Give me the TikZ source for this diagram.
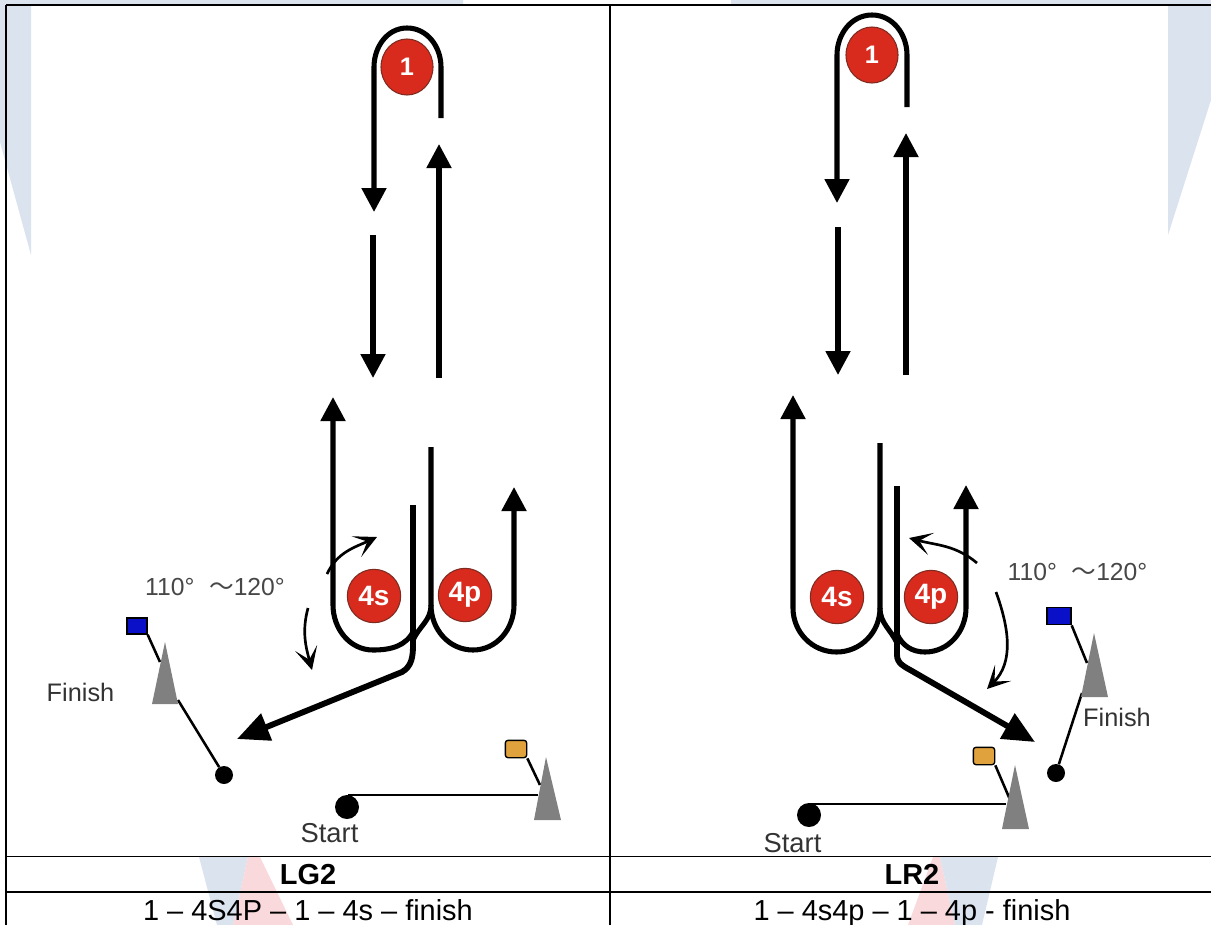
\documentclass[tikz,border=0pt]{standalone}
\usepackage{fontspec}
\setmainfont{Liberation Sans}
\newfontfamily\cjk{Noto Sans CJK JP}
\usetikzlibrary{arrows.meta,shapes.geometric}
\definecolor{markblue}{HTML}{DAE3EE}
\definecolor{markpink}{HTML}{F9D9DC}
\definecolor{buoyred}{HTML}{D92A1E}
\definecolor{buoyedge}{HTML}{7E2A20}
\definecolor{flagblue}{HTML}{0A10C8}
\definecolor{flagorange}{HTML}{E0A23C}
\definecolor{conegray}{HTML}{808080}
\begin{document}
\begin{tikzpicture}[x=0.75pt,y=0.75pt]
			\tikzstyle{track}=[draw=black,line width=3.8pt]
			\tikzstyle{trackhead}=[track,-{Triangle[length=18pt,width=18pt]}]
			\tikzstyle{exit}=[draw=black,line width=4.4pt,-{Triangle[length=24pt,width=21pt]}]
			\tikzstyle{swing}=[draw=black,line width=2pt,-{Stealth[length=17pt,width=17pt,inset=9pt]}]
			\tikzstyle{pole}=[draw=black,line width=1.9pt]
			\tikzstyle{grid}=[draw=black,line width=1.2pt]
			\tikzstyle{buoy}=[ellipse,draw=buoyedge,line width=0.8pt,fill=buoyred,text=white,font=\bfseries\fontsize{21}{21}\selectfont,inner sep=0pt,minimum width=40pt,minimum height=40pt]
			\tikzstyle{buoytop}=[buoy,font=\bfseries\fontsize{19}{19}\selectfont,minimum width=39pt,minimum height=42pt]
			\tikzstyle{ball}=[circle,fill=black,inner sep=0pt]
			\tikzstyle{flagbox}=[rectangle,draw=black,line width=1pt,inner sep=0pt,minimum width=15pt,minimum height=12pt]
			\tikzstyle{word}=[text=black!80,font=\fontsize{19}{19}\selectfont,inner sep=0pt]
			\tikzstyle{startword}=[word,font=\fontsize{20.5}{20.5}\selectfont]
			\tikzstyle{angle}=[text=black!72,font=\fontsize{18.5}{18.5}\selectfont,inner sep=0pt]
			\tikzstyle{cell}=[text=black,font=\fontsize{21.7}{22}\selectfont,inner sep=0pt,anchor=base]
			\tikzstyle{cellhead}=[cell,font=\bfseries\fontsize{21.7}{22}\selectfont]
			\useasboundingbox (0,0) rectangle (1211,-925);

			% watermark
			\fill[markblue] (0,0) -- (463,0) -- (463,-5) -- (31,-5) -- (31,-255) -- (0,-142) -- cycle;
			\fill[markblue] (731,0) -- (1211,0) -- (1211,-100) -- (1168,-235) -- (1168,-5) -- (731,-5) -- cycle;
			\fill[markblue] (199,-857) -- (248,-857) -- (233,-925) -- (217,-925) -- cycle;
			\fill[markpink] (248,-857) -- (260,-857) -- (293,-925) -- (233,-925) -- cycle;
			\fill[markpink] (933,-857) -- (940,-857) -- (955,-925) -- (908,-925) -- cycle;
			\fill[markblue] (940,-857) -- (998,-857) -- (982,-925) -- (955,-925) -- cycle;

			% table
			\path[grid]
			(6,-5) -- (1211,-5)
			(6,-5) -- (6,-925)
			(610,-5) -- (610,-925)
			(6,-856.5) -- (1211,-856.5)
			(6,-892) -- (1211,-892)
			;
			\node[cellhead] (LG2) at (308,-884) {LG2};
			\node[cellhead] (LR2) at (912,-884) {LR2};
			\node[cell] (row-L) at (308,-920) {1 – 4S4P – 1 – 4s – finish};
			\node[cell] (row-R) at (912,-920) {1 – 4s4p – 1 – 4p - finish};

			% left panel
			\begin{scope}
			\node[buoytop] (1-L) at (407,-67) {1};
			\node[buoy] (4s-L) at (374,-596) {4s};
			\node[buoy] (4p-L) at (465,-595) {4p};
			\node[ball,minimum size=13.5pt] (finish-L) at (224,-775) {};
			\node[ball,minimum size=18pt] (start-L) at (347,-807) {};
			\node[flagbox,fill=flagblue] (blue-L) at (137,-626) {};
			\node[flagbox,fill=flagorange,rounded corners=2pt,minimum width=16pt,minimum height=13pt] (gold-L) at (516,-749) {};
			\node[word] (Finish-L) at (80.5,-692) {Finish};
			\node[startword] (Start-L) at (329.5,-833) {Start};
			\node[angle] (deg-L) at (215,-587) {110°\hspace{11pt}{\cjk ～}120°};

			\coordinate (a1) at (441,-118);
			\coordinate (a2) at (441,-67);
			\coordinate (a3) at (407,-28);
			\coordinate (a4) at (374,-67);
			\coordinate (a5) at (374,-212);
			\coordinate (a6) at (373,-235);
			\coordinate (a7) at (373,-378);
			\coordinate (a8) at (439,-378);
			\coordinate (a9) at (439,-144);
			\coordinate (b1) at (333,-397);
			\coordinate (b2) at (333,-605);
			\coordinate (b3) at (373,-650);
			\coordinate (b4) at (414,-630);
			\coordinate (b5) at (431,-447);
			\coordinate (b6) at (431,-605);
			\coordinate (b7) at (413,-640);
			\coordinate (b8) at (473,-650);
			\coordinate (b9) at (514,-605);
			\coordinate (b10) at (514,-487);
			\coordinate (c1) at (413,-505);
			\coordinate (c2) at (413,-645);
			\coordinate (c3) at (402,-672);
			\coordinate (c4) at (237,-739);
			\coordinate (d1) at (327,-574);
			\coordinate (d2) at (377,-537);
			\coordinate (d3) at (308,-608);
			\coordinate (d4) at (312,-670);
			\coordinate (e1) at (160,-662);
			\coordinate (e2) at (178,-700);
			\coordinate (e3) at (540,-785);
			\coordinate (e4) at (538,-795);
			\coordinate (e5) at (348,-795);
			\end{scope}

			\draw[trackhead] (a1) -- (a2) to[out=90,in=0] (a3) to[out=180,in=90] (a4) -- (a5);
			\draw[trackhead] (a6) -- (a7);
			\draw[trackhead] (a8) -- (a9);
			\draw[trackhead] (b4) to[out=-115,in=0] (b3) to[out=180,in=-90] (b2) -- (b1);
			\draw[track] (b5) -- (b6) to[out=-90,in=65] (b7);
			\draw[trackhead] (b6) to[out=-90,in=180] (b8) to[out=0,in=-90] (b9) -- (b10);
			\draw[exit] (c1) -- (c2) to[out=-90,in=30] (c3) -- (c4);
			\draw[swing] (d1) to[out=65,in=205] (d2);
			\draw[swing] (d3) to[out=-105,in=105] (d4);
			\path[pole]
			(blue-L.south east) edge (e1)
			(e2) edge (finish-L)
			(gold-L.south east) edge (e3)
			(e4) edge (e5)
			;
			\fill[conegray] (165,-642) -- (178,-704) -- (152,-704) -- cycle;
			\fill[conegray] (546,-757) -- (561,-820) -- (534,-820) -- cycle;

			% right panel
			\begin{scope}
			\node[buoytop] (1-R) at (872,-55) {1};
			\node[buoy] (4s-R) at (837,-597) {4s};
			\node[buoy] (4p-R) at (931,-597) {4p};
			\node[ball,minimum size=13.5pt] (finish-R) at (1056,-773) {};
			\node[ball,minimum size=18pt] (start-R) at (809,-815) {};
			\node[flagbox,fill=flagblue,minimum width=18pt,minimum height=13pt] (blue-R) at (1059,-616) {};
			\node[flagbox,fill=flagorange,rounded corners=2pt,minimum width=16pt,minimum height=13pt] (gold-R) at (984,-756) {};
			\node[word] (Finish-R) at (1117,-717) {Finish};
			\node[startword] (Start-R) at (792.5,-843) {Start};
			\node[angle] (deg-R) at (1077.5,-572) {110°\hspace{11pt}{\cjk ～}120°};

			\coordinate (f1) at (907,-107);
			\coordinate (f2) at (907,-55);
			\coordinate (f3) at (872,-15);
			\coordinate (f4) at (837,-55);
			\coordinate (f5) at (837,-203);
			\coordinate (f6) at (838,-227);
			\coordinate (f7) at (838,-375);
			\coordinate (f8) at (906,-375);
			\coordinate (f9) at (906,-133);
			\coordinate (g1) at (793,-395);
			\coordinate (g2) at (793,-608);
			\coordinate (g3) at (836.5,-652);
			\coordinate (g4) at (880,-608);
			\coordinate (g5) at (880,-443);
			\coordinate (g6) at (897,-643);
			\coordinate (g7) at (925,-652);
			\coordinate (g8) at (966,-608);
			\coordinate (g9) at (966,-485);
			\coordinate (g10) at (897,-634);
			\coordinate (h1) at (897,-486);
			\coordinate (h2) at (897,-655);
			\coordinate (h3) at (912,-671);
			\coordinate (h4) at (1035,-742);
			\coordinate (j1) at (977,-563);
			\coordinate (j2) at (909,-538);
			\coordinate (j3) at (996,-592);
			\coordinate (j4) at (987,-689);
			\coordinate (k1) at (1087,-663);
			\coordinate (k2) at (1082,-693);
			\coordinate (k3) at (1011,-802);
			\coordinate (k4) at (1006,-804);
			\coordinate (k5) at (810,-804);
			\end{scope}

			\draw[trackhead] (f1) -- (f2) to[out=90,in=0] (f3) to[out=180,in=90] (f4) -- (f5);
			\draw[trackhead] (f6) -- (f7);
			\draw[trackhead] (f8) -- (f9);
			\draw[trackhead] (g4) to[out=-90,in=0] (g3) to[out=180,in=-90] (g2) -- (g1);
			\draw[track] (g5) -- (g4) to[out=-90,in=115] (g6);
			\draw[trackhead] (g10) to[out=-65,in=180] (g7) to[out=0,in=-90] (g8) -- (g9);
			\draw[exit] (h1) -- (h2) to[out=-90,in=150] (h3) -- (h4);
			\draw[swing] (j1) to[out=140,in=-15] (j2);
			\draw[swing] (j3) to[out=-70,in=45] (j4);
			\path[pole]
			(blue-R.south east) edge (k1)
			(k2) edge (finish-R)
			(gold-R.south east) edge (k3)
			(k4) edge (k5)
			;
			\fill[conegray] (1094,-633) -- (1108,-697) -- (1081,-697) -- cycle;
			\fill[conegray] (1015,-765) -- (1029,-829) -- (1002,-829) -- cycle;
\end{tikzpicture}
\end{document}
